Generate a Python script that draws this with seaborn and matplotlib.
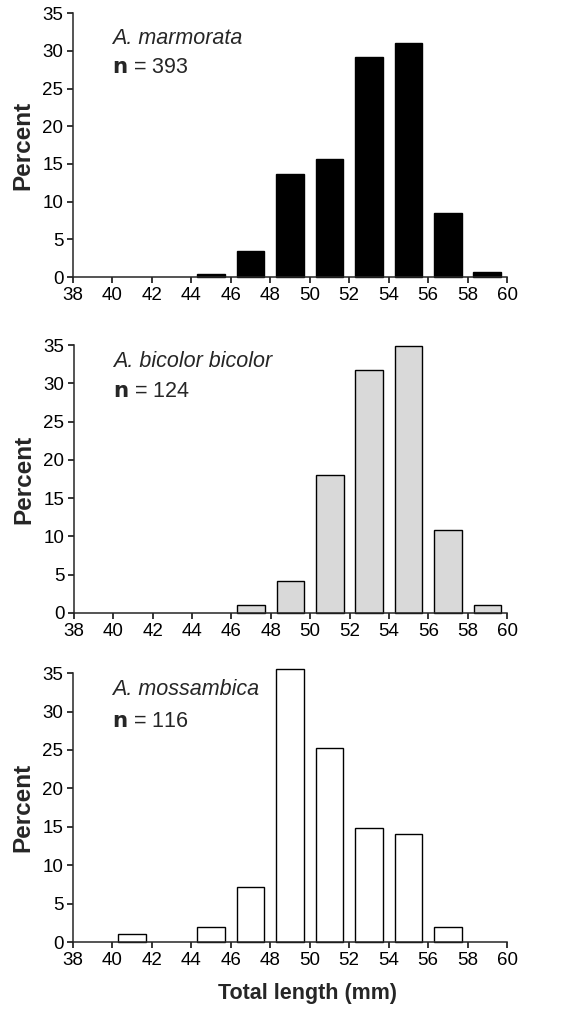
import numpy as np
import pandas as pd
import matplotlib
matplotlib.use('Agg')
import matplotlib.pyplot as plt
import seaborn as sns

# bin centres (mm) and percentages
marm_x = [45, 47, 49, 51, 53, 55, 57, 59]
marm_pct = [0.45, 3.5, 13.6, 15.7, 29.2, 31.0, 8.5, 0.7]

bic_x = [47, 49, 51, 53, 55, 57, 59]
bic_pct = [1.0, 4.2, 18.0, 31.7, 34.9, 10.8, 1.1]

moss_x = [41, 45, 47, 49, 51, 53, 55, 57]
moss_pct = [1.0, 2.0, 7.2, 35.5, 25.2, 14.9, 14.1, 2.0]

species = ['A. marmorata', 'A. bicolor bicolor', 'A. mossambica']
n_vals = [393, 124, 116]
fills = ['black', '#d9d9d9', 'white']
x_ticks = list(range(38, 61, 2))
y_ticks = list(range(0, 36, 5))

sns.set_style('ticks')
plt.rcParams['font.family'] = ['Liberation Sans', 'DejaVu Sans']
plt.rcParams['axes.linewidth'] = 1.1

fig = plt.figure(figsize=(5.86, 10.11), dpi=100)
boxes = [[0.1246, 0.726, 0.7406, 0.261],
         [0.1263, 0.3937, 0.7389, 0.265],
         [0.1246, 0.0682, 0.7406, 0.266]]
text_y = [(0.883, 0.774), (0.919, 0.807), (0.918, 0.80)]

data = [(marm_x, marm_pct), (bic_x, bic_pct), (moss_x, moss_pct)]
for i, (xs, ys) in enumerate(data):
    ax = fig.add_axes(boxes[i])
    df = pd.DataFrame({'length': xs, 'pct': ys})
    sns.barplot(data=df, x='length', y='pct', native_scale=True, width=0.7,
                color=fills[i], edgecolor='black', linewidth=1.0,
                saturation=1, ax=ax)
    for p in ax.patches:
        p.set_clip_on(False)
    ax.set_xlim(38, 60)
    ax.set_ylim(0, 35)
    ax.set_xticks(x_ticks)
    ax.set_yticks(y_ticks)
    ax.tick_params(labelsize=13.5, length=4, width=1.1, colors='black', pad=3)
    sns.despine(ax=ax)
    ax.set_ylabel('Percent', fontsize=17.5, fontweight='bold', labelpad=6)
    ax.set_xlabel('')
    ax.text(0.09, text_y[i][0], species[i], transform=ax.transAxes,
            fontsize=15.5, style='italic')
    ax.text(0.09, text_y[i][1], r'$\mathbf{n}$' + ' = %d' % n_vals[i],
            transform=ax.transAxes, fontsize=15.5)
    if i == 2:
        ax.set_xlabel('Total length (mm)', fontsize=15.5, fontweight='bold',
                      labelpad=10, x=0.54)

fig.savefig('out.png', dpi=100)
